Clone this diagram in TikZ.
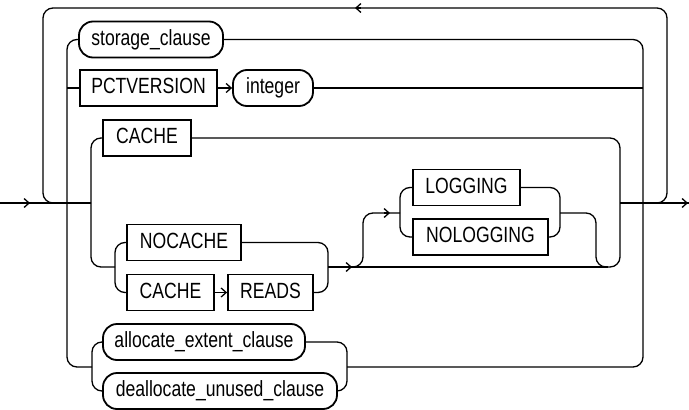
\documentclass[tikz,border=0pt]{standalone}
\usepackage{fontspec}
\setmainfont[FakeStretch=0.80]{Liberation Sans}
\usetikzlibrary{arrows.meta}
\begin{document}
\begin{tikzpicture}[x=1pt,y=-1pt,
  conn/.style={line width=1.3pt, rounded corners=10pt},
  tbox/.style={draw, line width=1.8pt, minimum height=36pt, inner sep=0pt,
    text height=15.75pt, text depth=4pt, font=\fontsize{22}{25}\selectfont},
  ntbox/.style={tbox, rounded corners=14pt},
  arrowhd/.style={line width=1.3pt, -{Straight Barb[length=5pt,width=9pt]}}
]
\useasboundingbox (0,0) rectangle (689,410);

% junction coordinates
\coordinate (in) at (0,203);
\coordinate (jL) at (91,203);
\coordinate (jR) at (620,203);
\coordinate (out) at (689,203);
\coordinate (vA) at (67,88);
\coordinate (vB) at (643,88);
\coordinate (allocIn) at (92,367);
\coordinate (allocOut) at (347,367);
\coordinate (cacheIn) at (115,267);
\coordinate (cacheOut) at (328,267);
\coordinate (byEnd) at (608,267);
\coordinate (logStart) at (345,267);
\coordinate (logIn) at (400,213);
\coordinate (logOut) at (560,213);

% nodes
\node[ntbox, minimum width=144pt] (storage) at (151,39.5) {storage\_clause};
\node[tbox, minimum width=137pt] (pct) at (148.5,88) {PCTVERSION};
\node[ntbox, minimum width=80pt] (int) at (273,88) {integer};
\node[tbox, minimum width=88pt] (cacheA) at (147,138) {CACHE};
\node[tbox, minimum width=114pt] (nocache) at (184,242.5) {NOCACHE};
\node[tbox, minimum width=87pt] (cacheB) at (170.5,292.5) {CACHE};
\node[tbox, minimum width=85pt] (reads) at (270.5,292.5) {READS};
\node[tbox, minimum width=107pt] (log) at (466.5,187.5) {LOGGING};
\node[tbox, minimum width=135pt] (nolog) at (480.5,237) {NOLOGGING};
\node[ntbox, minimum width=202pt] (alloc) at (204,342) {allocate\_extent\_clause};
\node[ntbox, minimum width=234pt] (dealloc) at (220,391) {deallocate\_unused\_clause};

% main line
\draw[conn] (in) -- (jL);
\draw[conn] (jR) -- (out);
% repeat loop
\draw[conn] (jR) -| (667,8) -| (43,203) -- (jL);

% storage / pctversion / allocate branch
\draw[conn] (storage.west) -| (67,367) -- (allocIn);
\draw[conn] (storage.east) -| (643,367) -- (allocOut);
\draw[conn] (vA) -- (pct.west);
\draw[conn, -{Straight Barb[length=5pt,width=9pt]}] (pct.east) -- (int.west);
\draw[conn] (int.east) -- (vB);
\draw[conn] (alloc.west) -| (92,391) -- (dealloc.west);
\draw[conn] (alloc.east) -| (347,391) -- (dealloc.east);

% cache branch
\draw[conn] (cacheA.west) -| (91,267) -- (cacheIn);
\draw[conn] (nocache.west) -| (115,292.5) -- (cacheB.west);
\draw[conn] (nocache.east) -| (328,292.5) -- (reads.east);
\draw[conn, -{Straight Barb[length=5pt,width=9pt]}] (cacheB.east) -- (reads.west);
\draw[conn] (cacheA.east) -| (620,267) -| (596,213) -- (logOut);
\draw[conn] (cacheOut) -- (byEnd);
\draw[conn] (logStart) -| (363,213) -- (logIn);
\draw[conn] (log.west) -| (400,237) -- (nolog.west);
\draw[conn] (log.east) -| (560,237) -- (nolog.east);

% arrowheads on lines
\draw[arrowhd] (24,203) -- (30,203);
\draw[arrowhd] (682,203) -- (688,203);
\draw[arrowhd] (361,8) -- (355,8);
\draw[arrowhd] (346,267) -- (352,267);
\draw[arrowhd] (384,213) -- (390,213);
\end{tikzpicture}
\end{document}
